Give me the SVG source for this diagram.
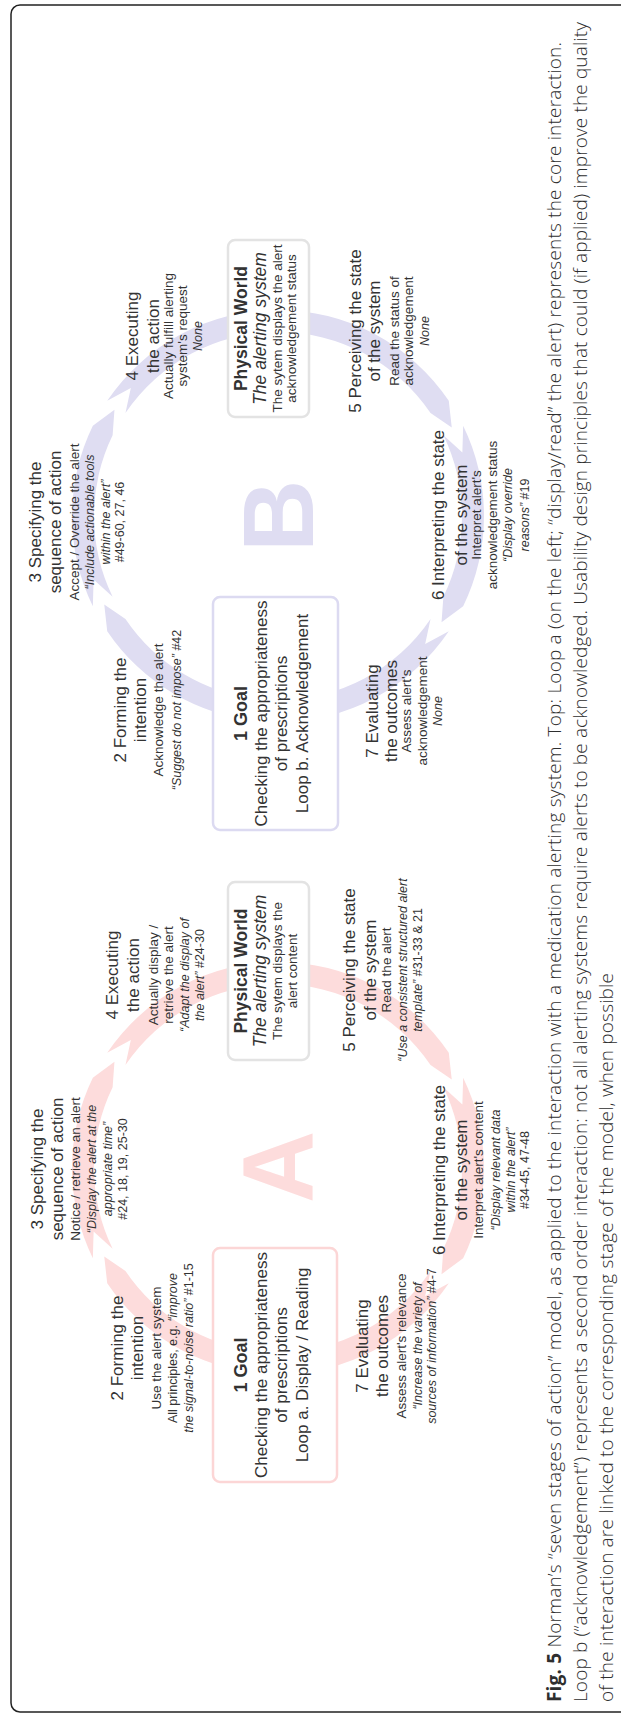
<svg xmlns="http://www.w3.org/2000/svg" width="621" height="1714" viewBox="0 0 621 1714">
<defs>
<style>
text{font-family:"Liberation Sans",Arial,Helvetica,sans-serif;fill:#333;text-anchor:middle}
.t{font-size:17px}
.s{font-size:13.5px}
.i{font-size:12.5px;font-style:italic}
.n{font-style:normal}
.gh{font-size:18px;font-weight:bold}
.gt{font-size:17px}
.ph{font-size:17.5px;font-weight:bold}
.pi{font-size:17.5px;font-style:italic}
.cap{font-family:"Open Sans",sans-serif;font-size:19px;font-weight:300;text-anchor:start;fill:#2e2e2e}
.arcA{fill:#fddcdc}
.arcB{fill:#dfddf2}
.boxA{fill:#fff;stroke:#fcd6d6;stroke-width:2.5}
.boxB{fill:#fff;stroke:#dcdaf1;stroke-width:2.5}
.boxP{fill:#fff;stroke:#e3e3e3;stroke-width:2.5}
.bigA{font-size:100px;font-weight:bold;fill:#fddcdc}
.bigB{font-size:100px;font-weight:bold;fill:#dfddf2}
</style>
<path id="s2" d="M 340.78 260.05 A 206 206 0 0 1 430.81 107.22 L 457.47 104.25 L 443.11 125.46 A 184 184 0 0 0 362.70 261.96 Z"/>
<path id="s3" d="M 455.70 92.85 A 206 206 0 0 1 636.30 92.85 L 652.20 114.46 L 626.66 112.62 A 184 184 0 0 0 465.34 112.62 L 482.51 93.62 Z"/>
<path id="s4" d="M 661.19 107.22 A 206 206 0 0 1 752 278 L 730 278 A 184 184 0 0 0 648.89 125.46 L 673.93 130.83 Z"/>
<path id="s5" d="M 752 278 A 206 206 0 0 1 661.19 448.78 L 634.53 451.75 L 648.89 430.54 A 184 184 0 0 0 730 278 Z"/>
<path id="s6" d="M 636.30 463.15 A 206 206 0 0 1 455.70 463.15 L 439.80 441.54 L 465.34 443.38 A 184 184 0 0 0 626.66 443.38 L 609.49 462.38 Z"/>
<path id="s7" d="M 430.81 448.78 A 206 206 0 0 1 340 278 L 362 278 A 184 184 0 0 0 443.11 430.54 L 418.07 425.17 Z"/>
</defs>
<rect x="11" y="5" width="660" height="1707" rx="9" fill="none" stroke="#222" stroke-width="1.5"/>
<g transform="translate(0,1714) rotate(-90)">
<g id="connectors">
<g id="loopA-arcs" class="arcA">
<use href="#s2"/><use href="#s3"/><use href="#s4"/><use href="#s5"/><use href="#s6"/><use href="#s7"/>
</g>
<g id="loopB-arcs" class="arcB" transform="translate(652,0)">
<use href="#s2"/><use href="#s3"/><use href="#s4"/><use href="#s5"/><use href="#s6"/><use href="#s7"/>
</g>
</g>
<text class="bigA" x="547" y="313">A</text>
<text class="bigB" x="1198" y="313">B</text>
<g id="goalA">
<rect class="boxA" x="232" y="213" width="234" height="124" rx="7"/>
<text class="gh" x="349" y="247">1 Goal</text>
<text class="gt" x="349" y="267">Checking the appropriateness</text>
<text class="gt" x="349" y="287">of prescriptions</text>
<text class="gt" x="349" y="308">Loop a. Display / Reading</text>
</g>
<g id="worldA">
<rect class="boxP" x="654" y="228" width="178" height="81" rx="7"/>
<text class="ph" x="743" y="247">Physical World</text>
<text class="pi" x="743" y="266">The alerting system</text>
<text class="s" x="743" y="282">The sytem displays the</text>
<text class="s" x="743" y="297">alert content</text>
</g>
<g id="stageA2">
<text class="t" x="366" y="123">2 Forming the</text>
<text class="t" x="366" y="143">intention</text>
<text class="s" x="366" y="161">Use the alert system</text>
<text class="i" x="366" y="177"><tspan class="n">All principles, e.g. </tspan>“improve</text>
<text class="i" x="366" y="193">the signal-to-noise ratio” <tspan class="n">#1-15</tspan></text>
</g>
<g id="stageA3">
<text class="t" x="545" y="43">3 Specifying the</text>
<text class="t" x="545" y="63">sequence of action</text>
<text class="s" x="545" y="80">Notice / retrieve an alert</text>
<text class="i" x="545" y="96">“Display the alert at the</text>
<text class="i" x="545" y="112">appropriate time”</text>
<text class="i n" x="545" y="127">#24, 18, 19, 25-30</text>
</g>
<g id="stageA4">
<text class="t" x="739" y="118">4 Executing</text>
<text class="t" x="739" y="139">the action</text>
<text class="s" x="739" y="158">Actually display /</text>
<text class="s" x="739" y="173">retrieve the alert</text>
<text class="i" x="739" y="189">“Adapt the display of</text>
<text class="i" x="739" y="204">the alert” <tspan class="n">#24-30</tspan></text>
</g>
<g id="stageA5">
<text class="t" x="744" y="355">5 Perceiving the state</text>
<text class="t" x="744" y="376">of the system</text>
<text class="s" x="744" y="391">Read the alert</text>
<text class="i" x="744" y="407">“Use a consistent structured alert</text>
<text class="i" x="744" y="422">template” <tspan class="n">#31-33 &amp; 21</tspan></text>
</g>
<g id="stageA6">
<text class="t" x="544" y="445">6 Interpreting the state</text>
<text class="t" x="544" y="467">of the system</text>
<text class="s" x="544" y="483">Interpret alert's content</text>
<text class="i" x="544" y="500">“Display relevant data</text>
<text class="i" x="544" y="515">within the alert”</text>
<text class="i n" x="544" y="529">#34-45, 47-48</text>
</g>
<g id="stageA7">
<text class="t" x="368" y="368">7 Evaluating</text>
<text class="t" x="368" y="388">the outcomes</text>
<text class="s" x="368" y="406">Assess alert's relevance</text>
<text class="i" x="368" y="422">“Increase the variety of</text>
<text class="i" x="368" y="436">sources of information” <tspan class="n">#4-7</tspan></text>
</g>
<g id="goalB">
<rect class="boxB" x="884" y="213" width="233" height="125" rx="7"/>
<text class="gh" x="1000.5" y="247">1 Goal</text>
<text class="gt" x="1000.5" y="267">Checking the appropriateness</text>
<text class="gt" x="1000.5" y="287">of prescriptions</text>
<text class="gt" x="1000.5" y="308">Loop b. Acknowledgement</text>
</g>
<g id="worldB">
<rect class="boxP" x="1297" y="228" width="177" height="81" rx="7"/>
<text class="ph" x="1385.5" y="247">Physical World</text>
<text class="pi" x="1385.5" y="266">The alerting system</text>
<text class="s" x="1385.5" y="282">The sytem displays the alert</text>
<text class="s" x="1385.5" y="296">acknowledgement status</text>
</g>
<g id="stageB2">
<text class="t" x="1004" y="126">2 Forming the</text>
<text class="t" x="1004" y="146">intention</text>
<text class="s" x="1004" y="163">Acknowledge the alert</text>
<text class="i" x="1004" y="181">“Suggest do not impose” <tspan class="n">#42</tspan></text>
</g>
<g id="stageB3">
<text class="t" x="1192" y="41">3 Specifying the</text>
<text class="t" x="1192" y="61">sequence of action</text>
<text class="s" x="1192" y="79">Accept / Override the alert</text>
<text class="i" x="1192" y="94">“Include actionable tools</text>
<text class="i" x="1192" y="110">within the alert”</text>
<text class="i n" x="1192" y="124">#49-60, 27, 46</text>
</g>
<g id="stageB4">
<text class="t" x="1378" y="138">4 Executing</text>
<text class="t" x="1378" y="159">the action</text>
<text class="s" x="1378" y="173">Actually fulfill alerting</text>
<text class="s" x="1378" y="187">system's request</text>
<text class="i" x="1378" y="202">None</text>
</g>
<g id="stageB5">
<text class="t" x="1383" y="361">5 Perceiving the state</text>
<text class="t" x="1383" y="380">of the system</text>
<text class="s" x="1383" y="399">Read the status of</text>
<text class="s" x="1383" y="413">acknowledgement</text>
<text class="i" x="1383" y="429">None</text>
</g>
<g id="stageB6">
<text class="t" x="1199" y="444">6 Interpreting the state</text>
<text class="t" x="1199" y="467">of the system</text>
<text class="s" x="1199" y="481">Interpret alert's</text>
<text class="s" x="1199" y="497">acknowledgement status</text>
<text class="i" x="1199" y="512">“Display override</text>
<text class="i" x="1199" y="529">reasons” <tspan class="n">#19</tspan></text>
</g>
<g id="stageB7">
<text class="t" x="1003" y="378">7 Evaluating</text>
<text class="t" x="1003" y="397">the outcomes</text>
<text class="s" x="1003" y="411">Assess alert's</text>
<text class="s" x="1003" y="427">acknowledgement</text>
<text class="i" x="1003" y="442">None</text>
</g>
<g id="caption">
<text class="cap" x="12" y="561" textLength="1660" lengthAdjust="spacing"><tspan font-weight="bold">Fig. 5</tspan> Norman’s “seven stages of action” model, as applied to the interaction with a medication alerting system. Top: Loop a (on the left; “display/read” the alert) represents the core interaction.</text>
<text class="cap" x="12" y="587" textLength="1680" lengthAdjust="spacing">Loop b (“acknowledgement”) represents a second order interaction: not all alerting systems require alerts to be acknowledged. Usability design principles that could (if applied) improve the quality</text>
<text class="cap" x="12" y="613" textLength="729" lengthAdjust="spacing">of the interaction are linked to the corresponding stage of the model, when possible</text>
</g>
</g>
</svg>
